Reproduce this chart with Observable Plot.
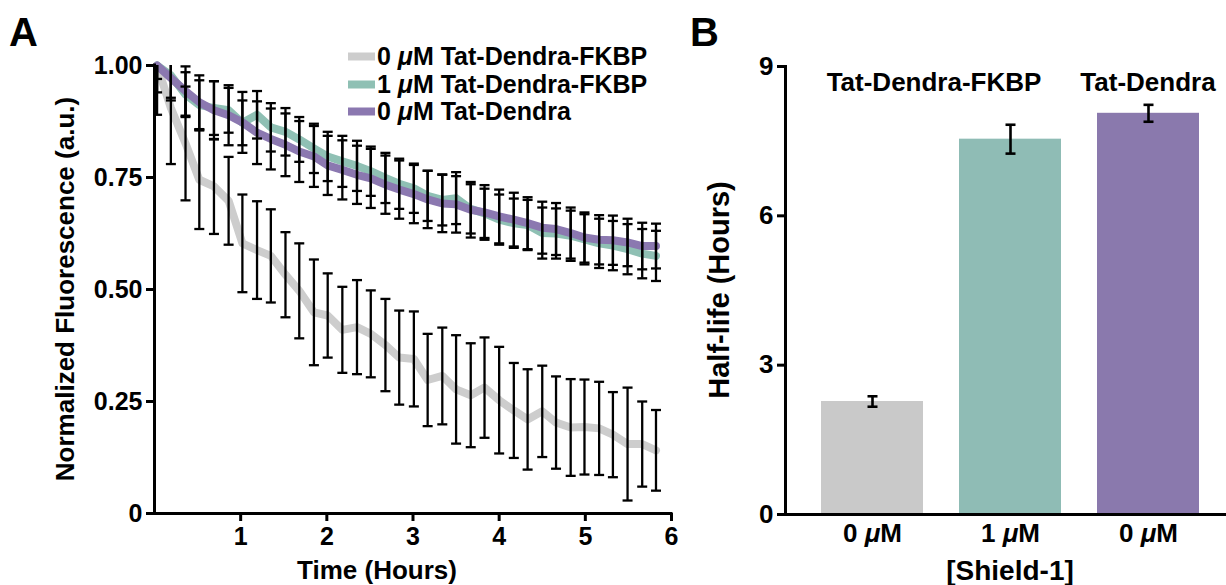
<!DOCTYPE html>
<html><head><meta charset="utf-8">
<script src="https://cdn.jsdelivr.net/npm/d3@7"></script>
<script src="https://cdn.jsdelivr.net/npm/@observablehq/plot@0.6"></script>
<style>
body{margin:0;background:#fff;}
#wrap{position:relative;width:1226px;height:585px;overflow:hidden;background:#fff;font-family:"Liberation Sans",Arial,Helvetica,sans-serif;font-weight:bold;color:#000;}
.abs{position:absolute;white-space:nowrap;line-height:1;}
.c{transform:translate(-50%,-50%);}
.rot{transform:translate(-50%,-50%) rotate(-90deg);}
.legrow{position:absolute;left:348px;display:flex;align-items:center;font-size:25px;line-height:1;white-space:nowrap;transform:translateY(-50%);}
.sw{display:inline-block;width:27px;height:8px;margin-right:2px;}
</style></head><body>
<div id="wrap">
  <div id="panelA" class="abs" style="left:0;top:0"></div>
  <div id="panelB" class="abs" style="left:690px;top:0"></div>
  <div class="abs" style="left:9px;top:12px;font-size:40px">A</div>
  <div class="abs" style="left:690px;top:12px;font-size:40px">B</div>
  <div class="abs rot" style="left:65px;top:289px;font-size:26px">Normalized Fluorescence (a.u.)</div>
  <div class="abs c" style="left:377px;top:570px;font-size:26px">Time (Hours)</div>
  <div class="abs rot" style="left:719px;top:290px;font-size:29px">Half-life (Hours)</div>
  <div class="abs c" style="left:1010px;top:571px;font-size:28px">[Shield-1]</div>
  <div id="legend"></div>
  <div id="groups"></div>
</div>
<script>
// ---------- Panel A data ----------
const time = [0.03,0.19,0.36,0.52,0.69,0.86,1.02,1.19,1.35,1.52,1.68,1.85,2.01,2.18,2.35,2.51,2.68,2.84,3.01,3.17,3.34,3.50,3.67,3.83,4.00,4.17,4.33,4.50,4.66,4.83,4.99,5.16,5.32,5.49,5.66,5.82];
const seriesNames = ["0 μM Tat-Dendra-FKBP", "1 μM Tat-Dendra-FKBP", "0 μM Tat-Dendra"];
const legendHtml = ["0 <i>μ</i>M Tat-Dendra-FKBP", "1 <i>μ</i>M Tat-Dendra-FKBP", "0 <i>μ</i>M Tat-Dendra"];
const lineColors = ["#cdcdcd", "#8fc0b4", "#8b78b0"];
const meanGray = [1.00,0.905,0.826,0.745,0.730,0.698,0.603,0.588,0.575,0.533,0.497,0.449,0.442,0.410,0.416,0.401,0.376,0.348,0.345,0.298,0.307,0.277,0.264,0.281,0.253,0.230,0.210,0.228,0.203,0.192,0.193,0.190,0.176,0.155,0.155,0.141];
const sdGray = [0.11,0.125,0.127,0.11,0.106,0.098,0.109,0.109,0.104,0.095,0.106,0.118,0.094,0.096,0.105,0.097,0.103,0.105,0.106,0.103,0.108,0.121,0.116,0.112,0.119,0.106,0.112,0.102,0.103,0.108,0.106,0.104,0.095,0.126,0.095,0.09];
const meanTeal = [1.00,0.978,0.935,0.912,0.905,0.900,0.872,0.890,0.862,0.852,0.835,0.815,0.797,0.786,0.776,0.764,0.749,0.736,0.726,0.709,0.700,0.704,0.680,0.670,0.656,0.648,0.644,0.626,0.625,0.620,0.612,0.603,0.598,0.590,0.580,0.575];
const sdTeal = [0.06,0.05,0.05,0.055,0.06,0.05,0.05,0.053,0.054,0.053,0.05,0.055,0.055,0.057,0.056,0.055,0.056,0.056,0.055,0.056,0.057,0.058,0.055,0.055,0.056,0.055,0.056,0.057,0.056,0.056,0.056,0.055,0.055,0.056,0.055,0.056];
const meanPurple = [1.00,0.972,0.943,0.918,0.900,0.889,0.873,0.850,0.836,0.823,0.808,0.797,0.777,0.767,0.756,0.748,0.734,0.723,0.713,0.701,0.692,0.690,0.678,0.672,0.663,0.656,0.648,0.638,0.635,0.626,0.616,0.611,0.610,0.605,0.597,0.597];
const sdPurple = [0.03,0.05,0.055,0.06,0.065,0.067,0.068,0.07,0.068,0.07,0.068,0.068,0.066,0.066,0.065,0.066,0.065,0.065,0.065,0.064,0.064,0.063,0.062,0.061,0.06,0.06,0.058,0.058,0.058,0.057,0.056,0.055,0.055,0.053,0.052,0.05];
const xTicksA = [1, 2, 3, 4, 5, 6];
const yTicksA = [0, 0.25, 0.5, 0.75, 1];

// ---------- Panel B data ----------
const shieldLabels = ["0 μM", "1 μM", "0 μM"];
const constructs = ["Tat-Dendra-FKBP", "Tat-Dendra-FKBP", "Tat-Dendra"];
const halfLife = [2.27, 7.54, 8.06];
const halfLifeErr = [0.105, 0.29, 0.17];
const barColors = ["#c9c9c9", "#8fbcb5", "#8a79ad"];
const yTicksB = [0, 3, 6, 9];

// ---------- build ----------
const means = [meanGray, meanTeal, meanPurple];
const sds = [sdGray, sdTeal, sdPurple];
const rows = seriesNames.flatMap((s, i) => time.map((t, k) => ({
  series: s, t, mean: means[i][k], lo: means[i][k] - sds[i][k], hi: means[i][k] + sds[i][k]
})));

const cap = {draw(ctx, size) { const w = Math.sqrt(size / Math.PI); ctx.moveTo(-w, 0); ctx.lineTo(w, 0); }};
const baseStyle = {fontFamily: "Liberation Sans, Arial, Helvetica, sans-serif", fontWeight: "bold", fontSize: "25px", color: "#000", background: "transparent", overflow: "visible"};

const plotA = Plot.plot({
  width: 700, height: 585,
  marginLeft: 154, marginRight: 29, marginTop: 65, marginBottom: 72,
  style: baseStyle,
  x: {domain: [0, 6]},
  y: {domain: [0, 1]},
  color: {domain: seriesNames, range: lineColors},
  marks: [
    Plot.line(rows, {x: "t", y: "mean", z: "series", stroke: "series", strokeWidth: 8, strokeLinejoin: "round", strokeLinecap: "round"}),
    Plot.ruleX(rows, {x: "t", y1: "lo", y2: "hi", stroke: "#000", strokeWidth: 2.3, clip: true}),
    Plot.dot(rows, {x: "t", y: "lo", symbol: cap, r: 5, stroke: "#000", strokeWidth: 2.3, fill: "none", clip: true}),
    Plot.dot(rows, {x: "t", y: "hi", symbol: cap, r: 5, stroke: "#000", strokeWidth: 2.3, fill: "none", clip: true}),
    Plot.ruleX([0], {strokeWidth: 3, strokeLinecap: "square"}),
    Plot.ruleY([0], {strokeWidth: 3, strokeLinecap: "square"}),
    Plot.axisX({ticks: xTicksA, tickSize: 8, tickPadding: 6, strokeWidth: 3, label: null, tickFormat: d => String(d)}),
    Plot.axisY({ticks: yTicksA, tickSize: 8, tickPadding: 4, strokeWidth: 3, label: null, tickFormat: d => d === 0 ? "0" : d.toFixed(2)})
  ]
});
document.getElementById("panelA").appendChild(plotA);

const bars = halfLife.map((v, i) => ({key: i, label: shieldLabels[i], construct: constructs[i], value: v, lo: v - halfLifeErr[i], hi: v + halfLifeErr[i]}));
const plotB = Plot.plot({
  width: 536, height: 585,
  marginLeft: 95, marginRight: 0, marginTop: 66, marginBottom: 71,
  style: {...baseStyle, fontSize: "26px"},
  x: {type: "band", domain: bars.map(d => d.key), range: [95, 545], paddingInner: 0.26, paddingOuter: 0.26},
  y: {domain: [0, 9]},
  color: {type: "ordinal", domain: bars.map(d => d.key), range: barColors},
  marks: [
    Plot.barY(bars, {x: "key", y: "value", fill: "key"}),
    Plot.ruleX(bars, {x: "key", y1: "lo", y2: "hi", stroke: "#000", strokeWidth: 2.6}),
    Plot.dot(bars, {x: "key", y: "lo", symbol: cap, r: 5, stroke: "#000", strokeWidth: 2.6, fill: "none"}),
    Plot.dot(bars, {x: "key", y: "hi", symbol: cap, r: 5, stroke: "#000", strokeWidth: 2.6, fill: "none"}),
    Plot.frame({anchor: "left", strokeWidth: 3}),
    Plot.ruleY([0], {strokeWidth: 3, strokeLinecap: "square"}),
    Plot.axisX({tickSize: 0, tickPadding: 9, label: null, tickFormat: i => shieldLabels[i]}),
    Plot.axisY({ticks: yTicksB, tickSize: 8, tickPadding: 4, strokeWidth: 3, label: null})
  ]
});
document.getElementById("panelB").appendChild(plotB);

// italic μ in tick labels
plotB.querySelectorAll("text").forEach(t => {
  const s = t.textContent;
  if (s.includes("μ") && t.children.length === 0) {
    const [a, b] = s.split("μ");
    t.textContent = "";
    const ns = "http://www.w3.org/2000/svg";
    const t1 = document.createElementNS(ns, "tspan"); t1.textContent = a;
    const t2 = document.createElementNS(ns, "tspan"); t2.textContent = "μ"; t2.setAttribute("font-style", "italic");
    const t3 = document.createElementNS(ns, "tspan"); t3.textContent = b;
    t.append(t1, t2, t3);
  }
});

// legend (panel A)
const leg = document.getElementById("legend");
const legY = [56, 84, 111];
seriesNames.forEach((s, i) => {
  const row = document.createElement("div");
  row.className = "legrow";
  row.style.top = legY[i] + "px";
  row.innerHTML = `<span class="sw" style="background:${lineColors[i]}"></span><span>${legendHtml[i]}</span>`;
  leg.appendChild(row);
});

// construct group labels (panel B) positioned from the band scale
const xs = plotB.scale("x");
const groups = document.getElementById("groups");
[...new Set(constructs)].forEach(c => {
  const ks = bars.filter(d => d.construct === c).map(d => xs.apply(d.key) + xs.bandwidth / 2);
  const cx = 690 + d3.mean(ks);
  const el = document.createElement("div");
  el.className = "abs c";
  el.style.left = (cx - (ks.length > 1 ? 7 : 0)) + "px";
  el.style.top = "82px";
  el.style.fontSize = "26px";
  el.textContent = c;
  groups.appendChild(el);
});
</script>
</body></html>
